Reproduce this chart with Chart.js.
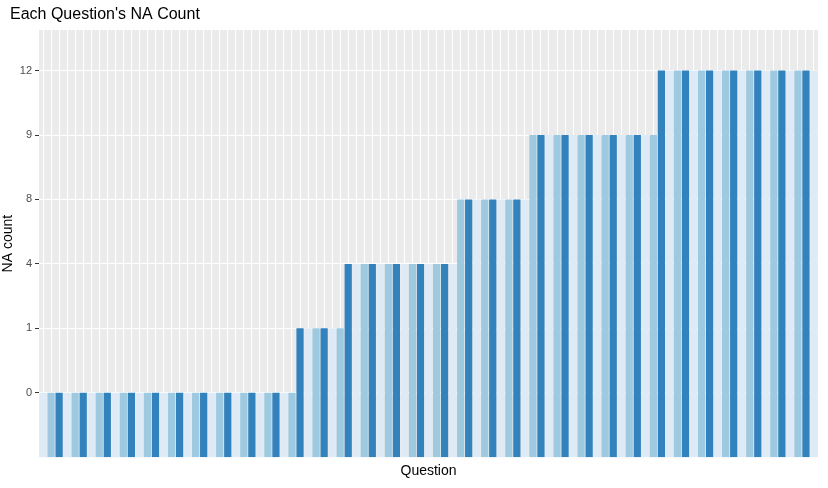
<!DOCTYPE html>
<html>
<head>
<meta charset="utf-8">
<script src="https://cdn.jsdelivr.net/npm/chart.js@4"></script>
<style>
  body { margin: 0; background: #fff; }
  #wrap { width: 828px; height: 488px; }
</style>
</head>
<body>
<div id="wrap"><canvas id="c"></canvas></div>
<script>
// discrete NA-count levels shown on the y axis
const yLevels = [0, 1, 4, 8, 9, 12];

// NA count for each question, in plotted order
const naCounts = [
  0,0,0,0,0,0,0,0,0,0,0,0,0,0,0,0,0,0,0,0,0,0,0,0,0,0,0,0,0,0,0,0,
  1,1,1,1,1,1,
  4,4,4,4,4,4,4,4,4,4,4,4,4,4,
  8,8,8,8,8,8,8,8,8,
  9,9,9,9,9,9,9,9,9,9,9,9,9,9,9,9,
  12,12,12,12,12,12,12,12,12,12,12,12,12,12,12,12,12,12,12,12
];

const questions = naCounts.map((_, i) => 'Q' + (i + 1));
const fills = ['#deebf7', '#9ecae1', '#3182bd'];
const chartTitle = "Each Question's NA Count";

// grey panel plus a title placed like ggplot's
const panelBg = {
  id: 'panelBg',
  beforeDraw(chart) {
    const a = chart.chartArea, ctx = chart.ctx;
    ctx.save();
    ctx.fillStyle = '#ebebeb';
    ctx.fillRect(a.left, a.top, a.right - a.left, a.bottom - a.top);
    ctx.fillStyle = '#000';
    ctx.font = '16px "Liberation Sans"';
    ctx.textBaseline = 'middle';
    ctx.fillText(chartTitle, 10, 15);
    ctx.restore();
  }
};

new Chart(document.getElementById('c'), {
  type: 'bar',
  data: {
    labels: questions,
    datasets: [{
      data: naCounts.map(v => yLevels.indexOf(v) + 1),
      backgroundColor: questions.map((_, i) => fills[i % 3]),
      barPercentage: 0.9,
      categoryPercentage: 1
    }]
  },
  options: {
    responsive: true,
    maintainAspectRatio: false,
    animation: false,
    layout: { padding: { left: 0, right: 10, top: 30, bottom: 4 } },
    plugins: {
      legend: { display: false },
      tooltip: { enabled: false },
      title: { display: false }
    },
    scales: {
      x: {
        grid: { color: '#ffffff', lineWidth: 1, offset: false, drawTicks: false },
        border: { display: false },
        ticks: { display: false },
        title: {
          display: true, text: 'Question', color: '#000',
          font: { family: 'Liberation Sans', size: 14 }, padding: { top: 6 }
        }
      },
      y: {
        min: 0,
        max: 6.63,
        afterBuildTicks(axis) {
          axis.ticks = yLevels.map((_, i) => ({ value: i + 1 }));
        },
        grid: { color: '#ffffff', lineWidth: 1, drawTicks: true, tickLength: 4, tickColor: '#333333' },
        border: { display: false },
        ticks: {
          color: '#4d4d4d',
          padding: 3,
          font: { family: 'Liberation Sans', size: 11 },
          callback: v => yLevels[v - 1]
        },
        title: {
          display: true, text: 'NA count', color: '#000',
          font: { family: 'Liberation Sans', size: 14 }, padding: { top: 0, bottom: 0 }
        }
      }
    }
  },
  plugins: [panelBg]
});
</script>
</body>
</html>
